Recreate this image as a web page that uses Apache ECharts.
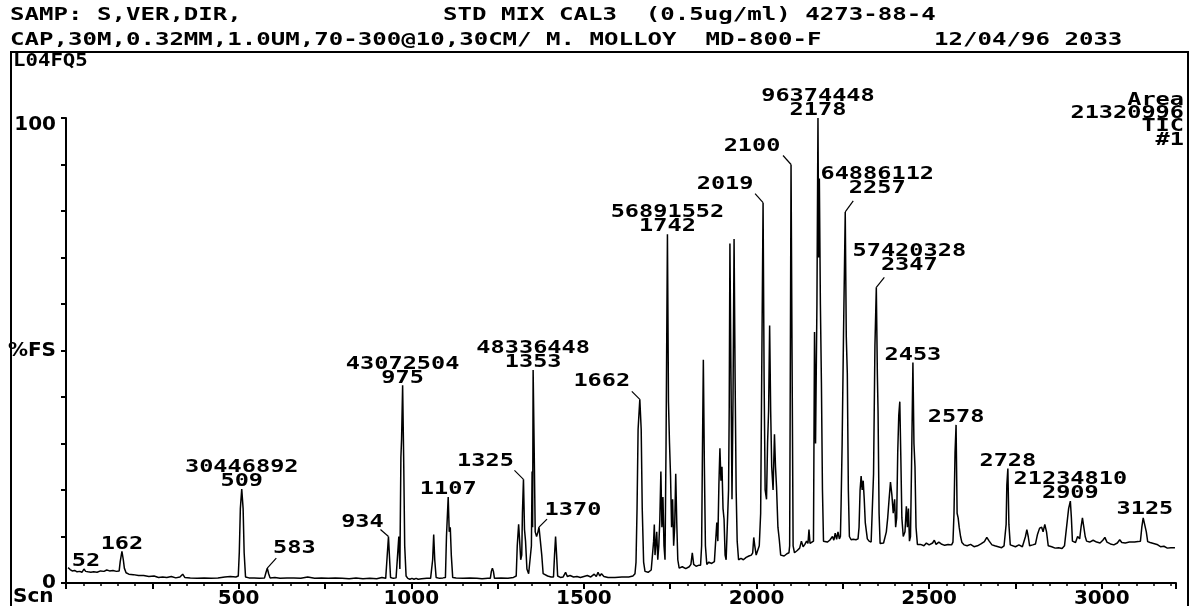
<!DOCTYPE html>
<html><head><meta charset="utf-8">
<script src="https://cdn.jsdelivr.net/npm/echarts@6/dist/echarts.min.js"></script>
<style>html,body{margin:0;padding:0;background:#fff}#c{width:1196px;height:606px}</style>
</head><body><div id="c"></div>
<script>
// ---- data (scan number, % full scale) ----
const traceA = [[6,3.3],[12,2.9],[18,2.6],[25,2.7],[32,2.4],[40,2.5],[46,2.3],[52,3.0],[57,2.5],[64,2.4],[72,2.3],[80,2.4],[90,2.3],[100,2.6],[110,2.5],[118,2.8],[126,2.6],[136,2.7],[146,2.5],[154,2.6],[157,4.6],[162,6.8],[166,5.0],[169,3.2],[174,2.2],[182,1.9],[195,1.8],[210,1.6],[225,1.6],[240,1.4],[255,1.5],[268,1.2],[280,1.3],[292,1.2],[305,1.4],[318,1.1],[330,1.3],[338,1.9],[344,1.2],[360,1.1],[380,1.0],[400,1.1],[420,1.0],[440,1.1],[460,1.3],[476,1.4],[492,1.3],[499,1.5],[502,6.7],[505,16],[509,20.2],[513,16],[516,6.5],[520,1.3],[530,1.1],[545,1.1],[560,1.0],[575,1.1],[579,2.2],[583,3.2],[587,2.0],[591,1.1],[605,1.2],[620,1.0],[640,1.1],[660,1.1],[680,1.0],[700,1.3],[720,1.0],[740,1.1],[760,1.0],[780,1.1],[800,1.0],[820,0.9],[840,1.1],[860,0.9],[880,1.0],[900,0.9],[915,1.2],[926,1.0],[930,5.5],[934,10],[937,5.5],[940,1.2],[948,1.0],[956,1.1]];
const traceB = [[961,1.0],[964,10],[967,3],[970,27],[972,31],[975,42.5],[978,27],[981,8],[985,1.5],[990,1.0],[996,0.8],[1002,1.0],[1008,0.8],[1014,1.0],[1020,0.8],[1030,0.9],[1045,1.0],[1056,1.0],[1062,5],[1065,10.4],[1068,5],[1072,1.2],[1082,1.0],[1092,1.1],[1099,1.2],[1102,10],[1107,18.5],[1110,11],[1113,12],[1116,6],[1120,1.2],[1130,1.1],[1150,1.0],[1170,1.1],[1190,1.0],[1205,0.9],[1222,1.0],[1229,1.0],[1232,2.5],[1235,3.2],[1238,2.5],[1241,1.0],[1260,1.1],[1280,1.0],[1296,1.2],[1304,1.5],[1307,8],[1311,12.6],[1314,9],[1317,5],[1320,6],[1322,15],[1325,22.3],[1328,11.5],[1331,9],[1335,3],[1340,2],[1345,2],[1348,8],[1350,24],[1351.5,12],[1353,45.8],[1356,29],[1359,11],[1363,10],[1367,11],[1370,12],[1374,9],[1378,6],[1382,2],[1395,1.5],[1405,1.3],[1412,1.3],[1415,6],[1418,10],[1421,6],[1424,1.5],[1432,1.2],[1440,1.3],[1447,2.3],[1452,1.4],[1460,1.6],[1470,1.3],[1480,1.4],[1490,1.2],[1500,1.4],[1510,1.6],[1520,1.3],[1530,1.9],[1536,1.4],[1541,2.3],[1546,1.5],[1551,2.0],[1558,1.4],[1570,1.2],[1590,1.2],[1610,1.3],[1630,1.3],[1642,1.5]];
const traceC = [[1648,2.0],[1651,4.5],[1654,16],[1657,33],[1662,39.5],[1666,33],[1669,16],[1673,4.5],[1677,2.5],[1686,2.3],[1695,2.8],[1700,3.0],[1702,9],[1704,12.6],[1706,6],[1708,8],[1711,11],[1714,5],[1717,8],[1720,13.7],[1723,24],[1726,12],[1729,18.5],[1732,8],[1735,5],[1738,30],[1742,75],[1745,39],[1748,30],[1751,23],[1754,12],[1757,18],[1760,8],[1763,12],[1766,23.5],[1769,13],[1772,5],[1776,3.2],[1785,3.5],[1795,3.1],[1805,3.5],[1810,4],[1814,6.5],[1818,4],[1825,3.6],[1832,3.8],[1838,3.8],[1841,8],[1843,25],[1846,48],[1849,25],[1852,8],[1856,4],[1862,4.5],[1870,4.2],[1878,4.6],[1882,5],[1885,13],[1888,9],[1891,21],[1894,29],[1897,22],[1900,25],[1903,16],[1906,13.7],[1909,6],[1912,5],[1916,5],[1919,20],[1921,38],[1923,73],[1926,45],[1929,18],[1932,40],[1935,74],[1938,44],[1941,20],[1944,9],[1948,5],[1955,5.3],[1962,5],[1970,5.5],[1978,5.8],[1985,6],[1989,6.5],[1992,9.8],[1995,8],[1999,6],[2004,6],[2008,8],[2012,15],[2015,44],[2019,81.8],[2022,44],[2025,20],[2029,18],[2032,30],[2035,37],[2038,55.4],[2041,37],[2044,25],[2048,20],[2052,32],[2055,25],[2058,20.6],[2062,12],[2066,9.3],[2070,6],[2074,5.6],[2080,5.8],[2088,6.3],[2094,6.5]];
const traceD = [[2096,8],[2098,48],[2100,90],[2103,48],[2106,8],[2110,6.5],[2118,7],[2125,7.5],[2130,9],[2135,7.8],[2140,8.3],[2145,9],[2149,8.5],[2152,11.5],[2155,8.5],[2160,8.3],[2165,9],[2168,54],[2171,30],[2175,60],[2178,100],[2180,70],[2182,87],[2185,60],[2188,43],[2191,20],[2194,9],[2198,8.7],[2205,8.8],[2212,9.2],[2220,10],[2224,9.2],[2228,10.7],[2232,9.4],[2236,11],[2240,9.5],[2243,10],[2245,17],[2248,30],[2252,53.5],[2257,79.8],[2260,53],[2263,45],[2266,20],[2269,10],[2274,9.3],[2280,9.4],[2288,9.3],[2294,9.5],[2297,12],[2300,20],[2303,23],[2306,20],[2309,22],[2312,18],[2315,13],[2318,13],[2321,9.5],[2326,9],[2332,8.8],[2336,9],[2339,23.5],[2343,51],[2347,63.6],[2350,45],[2352,37],[2355,15],[2358,8.5],[2362,8.3],[2368,8.6],[2372,9],[2376,11],[2380,14],[2384,18],[2388,21.7],[2392,19],[2396,15],[2400,18],[2403,12],[2406,14],[2409,28],[2412,36],[2415,39],[2418,27],[2421,14],[2425,10],[2430,11],[2434,16.5],[2437,12],[2440,16],[2443,9],[2446,10],[2449,25],[2453,47.4],[2456,30],[2459,25],[2462,12],[2466,8.3],[2475,8.3],[2485,8.0],[2492,8.6],[2500,8.2]];
const traceE = [[2510,8.6],[2515,9.2],[2520,8.3],[2528,8.8],[2535,8.4],[2545,8.1],[2555,8.3],[2565,8.2],[2569,8.8],[2572,15],[2575,28],[2578,34],[2581,15],[2584,14],[2587,12],[2591,10],[2595,8.7],[2601,8.2],[2610,8.0],[2620,8.3],[2630,7.8],[2640,8.0],[2650,8.4],[2660,8.9],[2667,9.8],[2674,9.0],[2682,8.2],[2690,8.0],[2700,7.8],[2710,7.6],[2717,8.0],[2720,8.0],[2723,12.6],[2725,21],[2728,24.6],[2731,12.6],[2735,8.2],[2740,7.8],[2750,7.8],[2760,8.2],[2770,7.8],[2775,8.2],[2779,10],[2783,11.5],[2787,10],[2791,8.0],[2800,8.2],[2808,8.4],[2814,10.5],[2820,11.8],[2826,12],[2830,11],[2835,12.6],[2840,11],[2845,8.0],[2855,7.8],[2865,7.5],[2875,7.6],[2885,7.4],[2892,8.0],[2897,8.2],[2901,14],[2904,16],[2909,17.6],[2912,14],[2915,9],[2919,8.6],[2924,8.7],[2930,10],[2936,9.5],[2940,12],[2944,14],[2948,12],[2952,10],[2956,9],[2965,8.8],[2975,9.2],[2985,8.8],[2995,8.6],[3003,9.2],[3009,9.8],[3015,8.8],[3025,8.4],[3035,8.2],[3045,8.6],[3052,9.3],[3058,8.7],[3068,8.6],[3080,8.8],[3095,8.8],[3105,8.9],[3112,9.0],[3116,12],[3120,14],[3125,14.3],[3129,11],[3133,8.9],[3140,8.7],[3150,8.5],[3160,8.3],[3170,7.8],[3180,7.9],[3190,7.5],[3200,7.6],[3212,7.6]];

const labelScans = [52,162,509,583,934,975,1107,1325,1353,1370,1662,1742,2019,2100,2178,2257,2347,2453,2578,2728,2909,3125];
const labelTops  = [3.0,6.8,20.2,3.2,10,42.5,18.5,22.3,45.8,12,39.5,75,81.8,90,100,79.8,63.6,47.4,34,24.6,17.6,14.3];
const labelAreas = ['','','30446892','','','43072504','','','48336448','','','56891552','','','96374448','64886112','57420328','','','','21234810',''];

const yTickLabels = {0:'0', 50:'%FS', 100:'{top|100}'};
const xAxisTitle = 'Scn';
const headerLine1a = 'SAMP: S,VER,DIR,';
const headerLine1b = 'STD MIX CAL3  (0.5ug/ml) 4273-88-4';
const headerLine2a = 'CAP,30M,0.32MM,1.0UM,70-300@10,30CM/ M. MOLLOY  MD-800-F';
const headerLine2b = '12/04/96 2033';
const fileName = 'L04FQ5';
const infoLines = ['Area','21320996','TIC','#1'];

// ---- styles / placement (pixels) ----
// [dx of label centre, dy of label bottom from peak top, leader end dx, leader end dy]
const labelPlace = [
  [2,-1,0,0],[0,-1,0,0],[0,-1,0,0],[27,-13,9,-10],[-26,-8,-8,-7],[0,-1,0,0],[0,-1,0,0],
  [-38,-11,-9,-9],[0,-1,0,0],[34,-10,8,-8],[-38,-11,-8,-8],[0,-1,0,0],[-38,-12,-8,-9],
  [-39,-12,-8,-9],[0,-1,0,0],[32,-17,8,-11],[33,-15,8,-10],[0,-1,0,0],[0,-1,0,0],
  [0,-1,0,0],[0,-1,0,0],[0,-1,0,0]
];
const MONO = 'bold 18px "DejaVu Sans Mono"';
const SX = 1.31;      // peak labels
const HSX = 1.337;    // header

const trace = [].concat(traceA, traceB, traceC, traceD, traceE);
const chart = echarts.init(document.getElementById('c'), null, {renderer:'canvas'});

function txt(x, y, text, sx, align) {
  return {type:'text', x:x, y:y, scaleX:sx, silent:true,
    style:{text:text, x:0, y:0, font:MONO, fill:'#000', align:align||'left', verticalAlign:'middle'}};
}

const graphics = [
  {type:'rect', shape:{x:11, y:52, width:1177, height:570}, style:{fill:'none', stroke:'#000', lineWidth:2}, silent:true},
  txt(10, 15, headerLine1a, HSX), txt(443, 15, headerLine1b, HSX),
  txt(10, 40, headerLine2a, HSX), txt(934, 40, headerLine2b, HSX),
  txt(13, 61, fileName, 1.15),
  {type:'text', x:13, y:597, silent:true,
    style:{text:xAxisTitle, x:0, y:0, font:'bold 20px "DejaVu Sans"', fill:'#000', align:'left', verticalAlign:'middle'}}
];
infoLines.forEach((t,i)=>{
  graphics.push(txt(1184, 100 + i*13.3, t, SX, 'right'));
});

const labelFont = {color:'#000', fontFamily:'DejaVu Sans', fontWeight:'bold', fontSize:20};

chart.setOption({
  animation:false,
  backgroundColor:'#fff',
  grid:{left:66, right:20, top:118, bottom:23, containLabel:false, outerBoundsMode:'none'},
  xAxis:{type:'value', min:0, max:3215, interval:250,
    axisLine:{lineStyle:{color:'#000', width:2}},
    axisTick:{inside:false, length:6, lineStyle:{color:'#000', width:2}},
    minorTick:{show:true, splitNumber:5, length:3, lineStyle:{color:'#000', width:1.5}},
    splitLine:{show:false},
    axisLabel:Object.assign({margin:6, showMinLabel:false, showMaxLabel:false,
      formatter:v => (v>0 && v%500===0) ? String(v) : ''}, labelFont)
  },
  yAxis:{type:'value', min:0, max:100, interval:10,
    axisLine:{show:true, lineStyle:{color:'#000', width:2}},
    axisTick:{show:true, inside:false, length:5, lineStyle:{color:'#000', width:2}},
    splitLine:{show:false},
    axisLabel:Object.assign({margin:10,
      rich:{top:Object.assign({padding:[14,0,0,0]}, labelFont)},
      formatter:v => (yTickLabels[v] !== undefined ? yTickLabels[v] : '')}, labelFont)
  },
  graphic:graphics,
  series:[
    {type:'line', data:trace, showSymbol:false, symbol:'none', smooth:false,
      lineStyle:{color:'#000', width:1.5}, silent:true, z:2},
    {type:'custom', coordinateSystem:'cartesian2d', silent:true, z:3, clip:false,
      data:labelScans.map((s,i)=>[s, labelTops[i], i]),
      encode:{x:0, y:1},
      renderItem:function(params, api){
        const i = api.value(2);
        const p = api.coord([api.value(0), api.value(1)]);
        const pl = labelPlace[i];
        const bx = p[0] + pl[0], by = p[1] + pl[1];
        const children = [];
        const lines = labelAreas[i] ? [labelAreas[i], String(labelScans[i])] : [String(labelScans[i])];
        let cy = by - 6.5;
        for (let k = lines.length-1; k >= 0; k--) {
          children.push({type:'text', x:bx, y:cy, scaleX:SX,
            style:{text:lines[k], x:0, y:0, font:MONO, fill:'#000', align:'center', verticalAlign:'middle'}});
          cy -= 14;
        }
        if (pl[2] || pl[3]) {
          children.push({type:'line', shape:{x1:p[0], y1:p[1], x2:p[0]+pl[2], y2:p[1]+pl[3]},
            style:{stroke:'#000', lineWidth:1.2}});
        }
        return {type:'group', children:children};
      }
    }
  ]
});
</script>
</body></html>
